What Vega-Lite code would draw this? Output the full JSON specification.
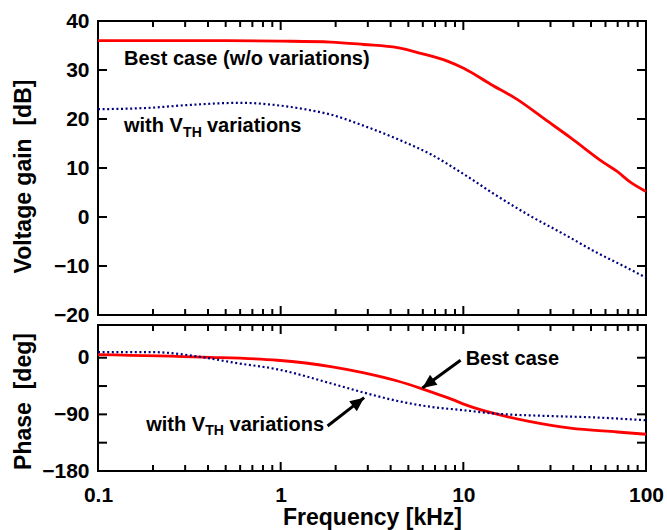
{
  "$schema": "https://vega.github.io/schema/vega-lite/v6.json",
  "padding": {"left": 11, "top": 9, "right": 5, "bottom": 0},
  "background": "white",
  "spacing": 10,
  "bounds": "flush",
  "datasets": {
    "gainBest": [
      {"f": 0.1, "v": 36.0}, {"f": 0.2, "v": 36.0}, {"f": 0.5, "v": 36.0}, {"f": 1.0, "v": 35.9},
      {"f": 1.88, "v": 35.7}, {"f": 2.85, "v": 35.2}, {"f": 4.36, "v": 34.55}, {"f": 5.84, "v": 33.4},
      {"f": 8.18, "v": 31.8}, {"f": 10.1, "v": 30.3}, {"f": 14.1, "v": 27.1}, {"f": 19.7, "v": 24.0},
      {"f": 28.8, "v": 19.6}, {"f": 38.6, "v": 16.2}, {"f": 58.7, "v": 11.1}, {"f": 69.5, "v": 9.3},
      {"f": 82.1, "v": 7.1}, {"f": 100, "v": 5.2}
    ],
    "gainVth": [
      {"f": 0.1, "v": 22.0}, {"f": 0.195, "v": 22.3}, {"f": 0.297, "v": 22.8}, {"f": 0.607, "v": 23.3},
      {"f": 0.96, "v": 22.8}, {"f": 1.4, "v": 21.9}, {"f": 1.88, "v": 20.9}, {"f": 2.86, "v": 18.6},
      {"f": 4.36, "v": 15.9}, {"f": 6.63, "v": 12.8}, {"f": 10.1, "v": 8.7}, {"f": 15.3, "v": 4.3},
      {"f": 23.3, "v": 0.2}, {"f": 35.5, "v": -3.5}, {"f": 54, "v": -7.3}, {"f": 82, "v": -10.7},
      {"f": 100, "v": -12.4}
    ],
    "phaseBest": [
      {"f": 0.1, "v": 5}, {"f": 0.37, "v": 1}, {"f": 0.96, "v": -4}, {"f": 1.88, "v": -14},
      {"f": 2.86, "v": -24}, {"f": 4.36, "v": -37}, {"f": 5.84, "v": -48.6}, {"f": 8.18, "v": -63.5},
      {"f": 11.4, "v": -79.4}, {"f": 16.7, "v": -92.5}, {"f": 23.3, "v": -101.6}, {"f": 38.6, "v": -112},
      {"f": 69.5, "v": -118}, {"f": 100, "v": -121.6}
    ],
    "phaseVth": [
      {"f": 0.1, "v": 9}, {"f": 0.195, "v": 9}, {"f": 0.37, "v": 1}, {"f": 0.56, "v": -8},
      {"f": 0.96, "v": -18.4}, {"f": 1.95, "v": -42}, {"f": 2.86, "v": -55.5}, {"f": 4.36, "v": -68.7},
      {"f": 6.63, "v": -78}, {"f": 10.1, "v": -83.5}, {"f": 15.3, "v": -89}, {"f": 28.8, "v": -92.5},
      {"f": 54, "v": -95}, {"f": 100, "v": -99.4}
    ],
    "gainText": [
      {"f": 0.1388, "v": 31.0, "t": "Best case (w/o variations)"},
      {"f": 0.1388, "v": 17.35, "t": "with V"},
      {"f": 0.395, "v": 17.35, "t": "variations"}
    ],
    "gainSub": [{"f": 0.2924, "v": 16.4, "t": "TH"}],
    "phaseText": [
      {"f": 10.3, "v": -12.1, "t": "Best case"},
      {"f": 0.1837, "v": -116.3, "t": "with V"},
      {"f": 0.525, "v": -116.3, "t": "variations"}
    ],
    "phaseSub": [{"f": 0.386, "v": -122.7, "t": "TH"}],
    "arrows": [
      {"f": 9.66, "v": -4.1, "f2": 5.97, "v2": -48.1},
      {"f": 1.806, "v": -108.4, "f2": 2.864, "v2": -63.5}
    ],
    "head1": [{"f": 5.97, "v": -48.1}],
    "head2": [{"f": 2.864, "v": -63.5}],
    "xMajor": [{"f": 1}, {"f": 10}],
    "xMinor": [
      {"f": 0.2}, {"f": 0.3}, {"f": 0.4}, {"f": 0.5}, {"f": 0.6}, {"f": 0.7}, {"f": 0.8}, {"f": 0.9},
      {"f": 2}, {"f": 3}, {"f": 4}, {"f": 5}, {"f": 6}, {"f": 7}, {"f": 8}, {"f": 9},
      {"f": 20}, {"f": 30}, {"f": 40}, {"f": 50}, {"f": 60}, {"f": 70}, {"f": 80}, {"f": 90}
    ],
    "gainTicks": [{"v": -10}, {"v": 0}, {"v": 10}, {"v": 20}, {"v": 30}],
    "phaseTicks": [{"v": -135}, {"v": -90}, {"v": -45}, {"v": 0}]
  },
  "vconcat": [
    {
      "width": 548,
      "height": 294,
      "resolve": {"scale": {"x": "shared", "y": "shared"}, "axis": {"x": "independent", "y": "independent"}},
      "layer": [
        {
          "data": {"name": "gainBest"},
          "mark": {"type": "line", "color": "#ff0000", "strokeWidth": 2.8, "interpolate": "monotone"},
          "encoding": {
            "x": {"field": "f", "type": "quantitative", "scale": {"type": "log", "domain": [0.1, 100], "nice": false}, "axis": null},
            "y": {"field": "v", "type": "quantitative", "scale": {"domain": [-20, 40], "nice": false, "zero": false},
                  "axis": {"orient": "left", "values": [-20, -10, 0, 10, 20, 30, 40], "ticks": false, "domain": false, "grid": false, "labelPadding": 9,
                           "labelFont": "Liberation Sans", "labelFontWeight": "bold", "labelFontSize": 21, "labelColor": "black",
                           "title": "Voltage gain\u00a0 [dB]", "titleFont": "Liberation Sans", "titleFontWeight": "bold", "titleFontSize": 23, "titleColor": "black",
                           "titleX": -63, "titleY": 155, "titleAngle": 270, "titleBaseline": "bottom", "titleAlign": "center"}}
          }
        },
        {
          "data": {"name": "gainVth"},
          "mark": {"type": "line", "color": "#000080", "strokeWidth": 2.2, "strokeDash": [2, 2.6], "interpolate": "monotone"},
          "encoding": {
            "x": {"field": "f", "type": "quantitative", "axis": null},
            "y": {"field": "v", "type": "quantitative", "axis": null}
          }
        },
        {
          "data": {"name": "gainText"},
          "mark": {"type": "text", "align": "left", "baseline": "alphabetic", "font": "Liberation Sans", "fontWeight": "bold", "fontSize": 20, "color": "black"},
          "encoding": {
            "x": {"field": "f", "type": "quantitative", "axis": null},
            "y": {"field": "v", "type": "quantitative", "axis": null},
            "text": {"field": "t"}
          }
        },
        {
          "data": {"name": "gainSub"},
          "mark": {"type": "text", "align": "left", "baseline": "alphabetic", "font": "Liberation Sans", "fontWeight": "bold", "fontSize": 14, "color": "black"},
          "encoding": {
            "x": {"field": "f", "type": "quantitative", "axis": null},
            "y": {"field": "v", "type": "quantitative", "axis": null},
            "text": {"field": "t"}
          }
        },
        {
          "data": {"name": "xMajor"},
          "mark": {"type": "tick", "orient": "vertical", "size": 18, "thickness": 2, "color": "black", "opacity": 1, "clip": true},
          "encoding": {"x": {"field": "f", "type": "quantitative", "axis": null}, "y": {"datum": 40, "type": "quantitative", "axis": null}}
        },
        {
          "data": {"name": "xMajor"},
          "mark": {"type": "tick", "orient": "vertical", "size": 18, "thickness": 2, "color": "black", "opacity": 1, "clip": true},
          "encoding": {"x": {"field": "f", "type": "quantitative", "axis": null}, "y": {"datum": -20, "type": "quantitative", "axis": null}}
        },
        {
          "data": {"name": "xMinor"},
          "mark": {"type": "tick", "orient": "vertical", "size": 12, "thickness": 2, "color": "black", "opacity": 1, "clip": true},
          "encoding": {"x": {"field": "f", "type": "quantitative", "axis": null}, "y": {"datum": 40, "type": "quantitative", "axis": null}}
        },
        {
          "data": {"name": "xMinor"},
          "mark": {"type": "tick", "orient": "vertical", "size": 12, "thickness": 2, "color": "black", "opacity": 1, "clip": true},
          "encoding": {"x": {"field": "f", "type": "quantitative", "axis": null}, "y": {"datum": -20, "type": "quantitative", "axis": null}}
        },
        {
          "data": {"name": "gainTicks"},
          "mark": {"type": "tick", "orient": "horizontal", "size": 18, "thickness": 2, "color": "black", "opacity": 1, "clip": true},
          "encoding": {"x": {"datum": 0.1, "type": "quantitative", "axis": null}, "y": {"field": "v", "type": "quantitative", "axis": null}}
        },
        {
          "data": {"name": "gainTicks"},
          "mark": {"type": "tick", "orient": "horizontal", "size": 18, "thickness": 2, "color": "black", "opacity": 1, "clip": true},
          "encoding": {"x": {"datum": 100, "type": "quantitative", "axis": null}, "y": {"field": "v", "type": "quantitative", "axis": null}}
        }
      ]
    },
    {
      "width": 548,
      "height": 146,
      "resolve": {"scale": {"x": "shared", "y": "shared"}, "axis": {"x": "independent", "y": "independent"}},
      "layer": [
        {
          "data": {"name": "phaseBest"},
          "mark": {"type": "line", "color": "#ff0000", "strokeWidth": 2.8, "interpolate": "monotone"},
          "encoding": {
            "x": {"field": "f", "type": "quantitative", "scale": {"type": "log", "domain": [0.1, 100], "nice": false},
                  "axis": {"orient": "bottom", "values": [0.1, 1, 10, 100], "format": "~g", "ticks": false, "domain": false, "grid": false, "labelPadding": 13, "labelFlush": false, "labelOverlap": false,
                           "labelFont": "Liberation Sans", "labelFontWeight": "bold", "labelFontSize": 21, "labelColor": "black",
                           "title": "Frequency [kHz]", "titleFont": "Liberation Sans", "titleFontWeight": "bold", "titleFontSize": 23, "titleColor": "black", "titlePadding": 1}},
            "y": {"field": "v", "type": "quantitative", "scale": {"domain": [-180, 52], "nice": false, "zero": false},
                  "axis": {"orient": "left", "values": [-180, -90, 0], "ticks": false, "domain": false, "grid": false, "labelPadding": 9,
                           "labelFont": "Liberation Sans", "labelFontWeight": "bold", "labelFontSize": 21, "labelColor": "black",
                           "title": "Phase\u00a0 [deg]", "titleFont": "Liberation Sans", "titleFontWeight": "bold", "titleFontSize": 23, "titleColor": "black",
                           "titleX": -63, "titleY": 76, "titleAngle": 270, "titleBaseline": "bottom", "titleAlign": "center"}}
          }
        },
        {
          "data": {"name": "phaseVth"},
          "mark": {"type": "line", "color": "#000080", "strokeWidth": 2.2, "strokeDash": [2, 2.6], "interpolate": "monotone"},
          "encoding": {
            "x": {"field": "f", "type": "quantitative", "axis": null},
            "y": {"field": "v", "type": "quantitative", "axis": null}
          }
        },
        {
          "data": {"name": "phaseText"},
          "mark": {"type": "text", "align": "left", "baseline": "alphabetic", "font": "Liberation Sans", "fontWeight": "bold", "fontSize": 20, "color": "black"},
          "encoding": {
            "x": {"field": "f", "type": "quantitative", "axis": null},
            "y": {"field": "v", "type": "quantitative", "axis": null},
            "text": {"field": "t"}
          }
        },
        {
          "data": {"name": "phaseSub"},
          "mark": {"type": "text", "align": "left", "baseline": "alphabetic", "font": "Liberation Sans", "fontWeight": "bold", "fontSize": 14, "color": "black"},
          "encoding": {
            "x": {"field": "f", "type": "quantitative", "axis": null},
            "y": {"field": "v", "type": "quantitative", "axis": null},
            "text": {"field": "t"}
          }
        },
        {
          "data": {"name": "arrows"},
          "mark": {"type": "rule", "color": "black", "strokeWidth": 3},
          "encoding": {
            "x": {"field": "f", "type": "quantitative", "axis": null},
            "y": {"field": "v", "type": "quantitative", "axis": null},
            "x2": {"field": "f2"},
            "y2": {"field": "v2"}
          }
        },
        {
          "data": {"name": "head1"},
          "mark": {"type": "point", "shape": "M0,0L-0.45,1L0.45,1Z", "size": 784, "angle": 234, "filled": true, "color": "black", "opacity": 1, "strokeWidth": 0},
          "encoding": {
            "x": {"field": "f", "type": "quantitative", "axis": null},
            "y": {"field": "v", "type": "quantitative", "axis": null}
          }
        },
        {
          "data": {"name": "head2"},
          "mark": {"type": "point", "shape": "M0,0L-0.45,1L0.45,1Z", "size": 784, "angle": 52.8, "filled": true, "color": "black", "opacity": 1, "strokeWidth": 0},
          "encoding": {
            "x": {"field": "f", "type": "quantitative", "axis": null},
            "y": {"field": "v", "type": "quantitative", "axis": null}
          }
        },
        {
          "data": {"name": "xMajor"},
          "mark": {"type": "tick", "orient": "vertical", "size": 18, "thickness": 2, "color": "black", "opacity": 1, "clip": true},
          "encoding": {"x": {"field": "f", "type": "quantitative", "axis": null}, "y": {"datum": 52, "type": "quantitative", "axis": null}}
        },
        {
          "data": {"name": "xMajor"},
          "mark": {"type": "tick", "orient": "vertical", "size": 18, "thickness": 2, "color": "black", "opacity": 1, "clip": true},
          "encoding": {"x": {"field": "f", "type": "quantitative", "axis": null}, "y": {"datum": -180, "type": "quantitative", "axis": null}}
        },
        {
          "data": {"name": "xMinor"},
          "mark": {"type": "tick", "orient": "vertical", "size": 12, "thickness": 2, "color": "black", "opacity": 1, "clip": true},
          "encoding": {"x": {"field": "f", "type": "quantitative", "axis": null}, "y": {"datum": 52, "type": "quantitative", "axis": null}}
        },
        {
          "data": {"name": "xMinor"},
          "mark": {"type": "tick", "orient": "vertical", "size": 12, "thickness": 2, "color": "black", "opacity": 1, "clip": true},
          "encoding": {"x": {"field": "f", "type": "quantitative", "axis": null}, "y": {"datum": -180, "type": "quantitative", "axis": null}}
        },
        {
          "data": {"name": "phaseTicks"},
          "mark": {"type": "tick", "orient": "horizontal", "size": 18, "thickness": 2, "color": "black", "opacity": 1, "clip": true},
          "encoding": {"x": {"datum": 0.1, "type": "quantitative", "axis": null}, "y": {"field": "v", "type": "quantitative", "axis": null}}
        },
        {
          "data": {"name": "phaseTicks"},
          "mark": {"type": "tick", "orient": "horizontal", "size": 18, "thickness": 2, "color": "black", "opacity": 1, "clip": true},
          "encoding": {"x": {"datum": 100, "type": "quantitative", "axis": null}, "y": {"field": "v", "type": "quantitative", "axis": null}}
        }
      ]
    }
  ],
  "config": {
    "font": "Liberation Sans",
    "view": {"stroke": "black", "strokeWidth": 2}
  }
}
